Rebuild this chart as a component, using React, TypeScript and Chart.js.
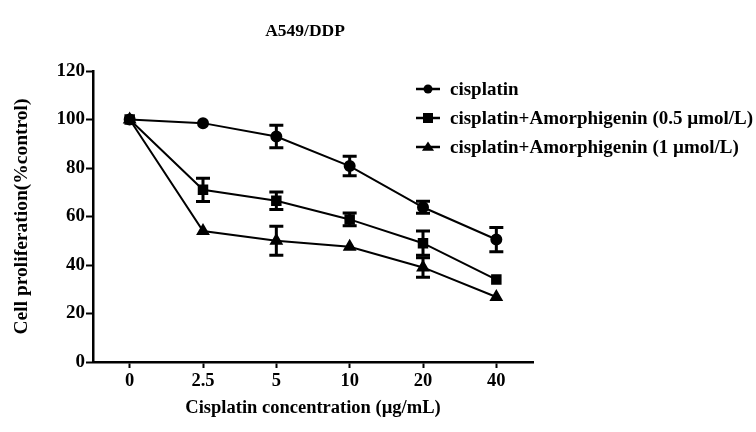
import React, { useEffect, useRef } from "react";
import { Chart, registerables } from "chart.js";

Chart.register(...registerables);

const categories = ["0", "2.5", "5", "10", "20", "40"];
const cisplatin = [100, 98.5, 93, 80.8, 63.8, 50.5];
const cisplatinErr = [0, 0, 4.6, 4, 2.5, 5];
const amor05 = [100, 71, 66.5, 58.8, 49, 34];
const amor05Err = [0, 4.8, 3.6, 2.6, 5, 0];
const amor1 = [100, 54, 50, 47.5, 39, 26.8];
const amor1Err = [0, 0, 6, 0, 4, 0];
const seriesLabels = [
  "cisplatin",
  "cisplatin+Amorphigenin (0.5 µmol/L)",
  "cisplatin+Amorphigenin (1 µmol/L)",
];
const yTicks = [0, 20, 40, 60, 80, 100, 120];
const chartTitle = "A549/DDP";
const xTitle = "Cisplatin concentration (µg/mL)";
const yTitle = "Cell proliferation(%control)";

const FONT = "'Liberation Serif', 'DejaVu Serif', serif";

const errorBarPlugin = {
  id: "errorBars",
  afterDatasetsDraw(chart: any) {
    const { ctx } = chart;
    const x = chart.scales.x;
    const y = chart.scales.y;
    chart.data.datasets.forEach((ds: any) => {
      const errs: number[] = ds.errors || [];
      ds.data.forEach((v: number, i: number) => {
        const e = errs[i];
        if (!e) return;
        const px = x.getPixelForValue(i);
        const top = y.getPixelForValue(v + e);
        const bot = y.getPixelForValue(v - e);
        ctx.save();
        ctx.strokeStyle = "#000";
        ctx.lineWidth = 3;
        ctx.beginPath();
        ctx.moveTo(px, top);
        ctx.lineTo(px, bot);
        ctx.moveTo(px - 7, top);
        ctx.lineTo(px + 7, top);
        ctx.moveTo(px - 7, bot);
        ctx.lineTo(px + 7, bot);
        ctx.stroke();
        ctx.restore();
      });
    });
  },
};

function drawMarker(ctx: CanvasRenderingContext2D, style: string, x: number, y: number, r: number) {
  ctx.fillStyle = "#000";
  ctx.beginPath();
  if (style === "circle") {
    ctx.arc(x, y, r, 0, Math.PI * 2);
  } else if (style === "rect") {
    ctx.rect(x - r, y - r, 2 * r, 2 * r);
  } else {
    ctx.moveTo(x, y - r);
    ctx.lineTo(x + r * 1.1, y + r * 0.7);
    ctx.lineTo(x - r * 1.1, y + r * 0.7);
    ctx.closePath();
  }
  ctx.fill();
}

const decorPlugin = {
  id: "decor",
  afterDraw(chart: any) {
    const { ctx, chartArea } = chart;
    ctx.save();
    ctx.fillStyle = "#000";
    ctx.font = `bold 17.5px ${FONT}`;
    ctx.textAlign = "center";
    ctx.textBaseline = "middle";
    ctx.fillText(chartTitle, (chartArea.left + chartArea.right) / 2 - 8, 31);

    const styles = ["circle", "rect", "triangle"];
    const radii = [4.5, 5, 5.5];
    const lx = chartArea.right - 117;
    const ys = [89, 118, 147];
    ctx.textAlign = "left";
    ctx.font = `bold 19px ${FONT}`;
    chart.data.datasets.forEach((ds: any, i: number) => {
      const yy = ys[i];
      ctx.strokeStyle = "#000";
      ctx.lineWidth = 2.5;
      ctx.beginPath();
      ctx.moveTo(lx, yy);
      ctx.lineTo(lx + 24, yy);
      ctx.stroke();
      drawMarker(ctx, styles[i], lx + 12, yy, radii[i]);
      ctx.fillStyle = "#000";
      ctx.fillText(ds.label, lx + 34, yy + 1);
    });
    ctx.restore();
  },
};

export default function App() {
  const ref = useRef<HTMLCanvasElement>(null);
  useEffect(() => {
    document.body.style.margin = "0";
    const base = {
      borderColor: "#000",
      backgroundColor: "#000",
      borderWidth: 2,
      pointBackgroundColor: "#000",
      pointBorderColor: "#000",
      tension: 0,
    };
    const chart = new Chart(ref.current as HTMLCanvasElement, {
      type: "line",
      data: {
        labels: categories,
        datasets: [
          { ...base, label: seriesLabels[0], data: cisplatin, errors: cisplatinErr, pointStyle: "circle", pointRadius: 5, order: 1 } as any,
          { ...base, label: seriesLabels[1], data: amor05, errors: amor05Err, pointStyle: "rect", pointRadius: 6, order: 0 } as any,
          { ...base, label: seriesLabels[2], data: amor1, errors: amor1Err, pointStyle: "triangle", pointRadius: 6, order: 2 } as any,
        ],
      },
      options: {
        animation: false,
        responsive: false,
        layout: { padding: { top: 71, right: 223, left: 0, bottom: 0 } },
        plugins: {
          legend: { display: false },
          title: { display: false },
          tooltip: { enabled: false },
        },
        scales: {
          x: {
            type: "category",
            offset: true,
            grid: { display: true, drawOnChartArea: false, drawTicks: true, tickLength: 6, tickColor: "#000", tickWidth: 2, offset: false } as any,
            border: { color: "#000", width: 2.5 },
            ticks: { color: "#000", font: { family: FONT, size: 18.5, weight: "bold" }, padding: 2 },
            title: { display: true, text: xTitle, color: "#000", font: { family: FONT, size: 18.5, weight: "bold" }, padding: { top: 0, bottom: 13 } },
            afterFit: (s: any) => { s.height = 70; },
          },
          y: {
            min: 0,
            max: 120,
            afterBuildTicks: (s: any) => { s.ticks = yTicks.map((v) => ({ value: v })); },
            grid: { display: true, drawOnChartArea: false, drawTicks: true, tickLength: 7, tickColor: "#000", tickWidth: 2 } as any,
            border: { color: "#000", width: 2.5 },
            ticks: { color: "#000", font: { family: FONT, size: 19, weight: "bold" }, padding: 1 },
            title: { display: true, text: yTitle, color: "#000", font: { family: FONT, size: 19.5, weight: "bold" }, padding: { top: 10, bottom: 4 } },
            afterFit: (s: any) => { s.width = 93; },
          },
        },
      },
      plugins: [errorBarPlugin, decorPlugin],
    } as any);
    return () => chart.destroy();
  }, []);
  return (
    <div style={{ width: 756, height: 432 }}>
      <canvas ref={ref} width={756} height={432} style={{ display: "block" }} />
    </div>
  );
}
